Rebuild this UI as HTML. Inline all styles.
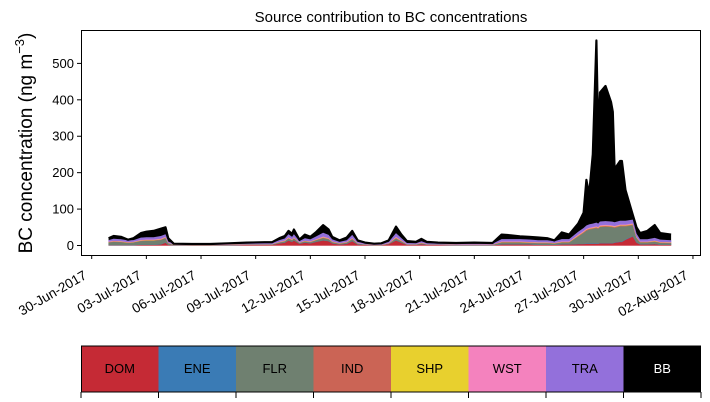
<!DOCTYPE html>
<html><head><meta charset="utf-8"><style>
body{margin:0;background:#fff;}
svg{display:block;font-family:"Liberation Sans","DejaVu Sans",sans-serif;}
</style></head><body>
<svg id="c" width="710" height="402" viewBox="0 0 710 402"></svg>
<script>
const seriesNames=["DOM","ENE","FLR","IND","SHP","WST","TRA","BB"];
const seriesColors=["#c52a35","#3a7bb5","#6f8070","#cb6455","#e8d02e","#f482be","#9370db","#000000"];
// time in days since 30-Jun-2017 00:00
const times=[0.93,1.2,1.6,2.0,2.3,2.7,3.0,3.4,3.8,4.05,4.2,4.5,5.5,6.5,7.5,8.5,9.5,9.9,10.3,10.6,10.8,11.0,11.1,11.4,11.7,12.0,12.3,12.7,13.0,13.2,13.6,14.0,14.3,14.6,15.0,15.5,15.9,16.3,16.7,17.0,17.3,17.8,18.1,18.4,19.0,20.0,21.0,22.0,22.5,23.0,23.5,24.0,24.5,25.0,25.4,25.8,26.2,26.7,27.0,27.15,27.3,27.5,27.7,27.8,27.9,28.2,28.5,28.6,28.7,29.0,29.1,29.3,29.7,29.9,30.1,30.5,30.9,31.2,31.8];
const totals=[20,26,24,16,20,34,38,40,46,50,20,5,4,4,6,8,9,9,20,26,40,32,44,16,30,24,36,56,44,24,14,22,40,14,8,5,6,14,52,30,12,10,18,10,8,7,8,7,30,28,25,24,22,20,14,36,30,60,90,180,140,250,563,300,420,438,394,367,210,232,232,152,84,50,34,40,56,34,30];
const dom=[1,1,1,1,1,2,2,2,3,8,2,1,1,1,1,2,2,2,6,8,14,10,14,5,8,6,10,14,12,6,3,5,12,3,2,1,1,4,14,8,2,2,4,2,2,1,1,1,3,3,3,3,2,2,2,3,3,4,4,5,5,5,5,5,6,6,6,6,8,10,10,16,25,8,3,3,4,2,2];
const ene=[0.5,0.5,0.5,0.5,0.5,0.5,0.5,0.5,0.5,0.5,0.3,0.2,0.2,0.2,0.2,0.2,0.2,0.2,0.4,0.4,0.5,0.5,0.5,0.3,0.4,0.4,0.5,0.6,0.5,0.4,0.3,0.3,0.5,0.3,0.2,0.2,0.2,0.3,0.6,0.4,0.2,0.2,0.3,0.2,0.2,0.2,0.2,0.2,0.5,0.5,0.5,0.5,0.5,0.5,0.4,0.5,0.5,1,1,1,1,1,1,1,1,1,1,1,1,1,1,1,1,0.8,0.5,0.5,0.6,0.5,0.5];
const flr=[7,9,8,6,7,10,11,11,12,12,4,1,0.5,0.5,0.8,1,1,1,2,3,5,4,5,2,3,3,4,6,5,3,2,3,5,2,1,0.5,0.5,1,5,3,1,1,2,1,1,1,1,1,5,5,5,4,4,4,3,5,5,20,30,35,38,40,42,40,44,45,44,43,40,42,42,36,30,12,5,5,6,5,4];
const ind=[0.8,1,1,0.8,0.8,1,1,1,1.2,1.2,0.6,0.3,0.3,0.3,0.3,0.4,0.4,0.4,0.8,1,1.2,1,1.2,0.6,0.8,0.8,1,1.5,1.2,0.8,0.5,0.6,1.2,0.5,0.3,0.3,0.3,0.5,1.5,1,0.4,0.4,0.6,0.4,0.3,0.3,0.3,0.3,1,1,1,1,1,1,0.8,1,1,2,2,2,2,2,2,2,2,2,2,2,2,2,2,2,2,1.5,1,1,1.2,1,1];
const shp=[0.6,0.7,0.7,0.6,0.6,0.8,0.8,0.8,0.9,0.9,0.4,0.2,0.2,0.2,0.2,0.3,0.3,0.3,0.6,0.7,0.8,0.7,0.8,0.4,0.6,0.6,0.7,1,0.8,0.6,0.4,0.5,0.8,0.4,0.2,0.2,0.2,0.4,1,0.7,0.3,0.3,0.5,0.3,0.2,0.2,0.2,0.2,0.8,0.8,0.8,0.8,0.8,0.8,0.6,0.8,0.8,1,1,1,1,1,1,1,1,1,1,1,1,1,1,1,1,1,0.8,0.8,1,0.8,0.8];
const wst=[1,1.2,1.2,1,1,1.3,1.4,1.4,1.5,1.5,0.8,0.4,0.4,0.4,0.5,0.6,0.6,0.6,1,1.2,1.5,1.3,1.5,0.8,1,1,1.2,1.8,1.5,1,0.7,0.8,1.5,0.7,0.4,0.3,0.3,0.7,2,1.3,0.5,0.5,0.8,0.5,0.4,0.4,0.4,0.4,1.2,1.2,1.2,1.2,1.1,1,0.8,1.2,1.2,2,2,2,2,2,2,2,2,2,2,2,2,2,2,2,2,1.5,1,1,1.2,1,1];
const tra=[4,5,5,4,4,6,6,6,7,7,3,1.5,1.2,1.2,1.5,2,2,2,4,5,8,6,8,3,6,5,7,10,8,5,3,4,8,3,2,1.5,1.5,3,10,6,2.5,2,3.5,2,2,1.8,2,1.8,6,6,6,6,5,5,4,6,6,8,8,9,9,9,10,9,10,10,10,10,10,10,10,10,10,8,6,6,7,6,5];
const xTickLabels=["30-Jun-2017","03-Jul-2017","06-Jul-2017","09-Jul-2017","12-Jul-2017","15-Jul-2017","18-Jul-2017","21-Jul-2017","24-Jul-2017","27-Jul-2017","30-Jul-2017","02-Aug-2017"];
const xTickDays=[0,3,6,9,12,15,18,21,24,27,30,33];
const yTicks=[0,100,200,300,400,500];

const NS="http://www.w3.org/2000/svg";
const svg=document.getElementById('c');
function mk(tag,attrs,parent){const e=document.createElementNS(NS,tag);for(const k in attrs)e.setAttribute(k,attrs[k]);(parent||svg).appendChild(e);return e;}
const L=81,R=701,T=30,B=255;
const x=d=>91.7+d*18.22;
const y=v=>245.5-v*0.3642;

const comps=[dom,ene,flr,ind,shp,wst,tra];
const bb=totals.map((t,i)=>{let s=0;comps.forEach(c=>s+=c[i]);return Math.max(0,t-s);});
const all=[...comps,bb];
let cum=times.map(()=>0);
const g=mk('g',{});


all.forEach((s,k)=>{
  const lower=cum.slice();
  const upper=cum.map((c,i)=>c+s[i]);
  let d='M'+times.map((t,i)=>x(t).toFixed(1)+','+y(upper[i]).toFixed(1)).join('L');
  for(let i=times.length-1;i>=0;i--)d+='L'+x(times[i]).toFixed(1)+','+y(lower[i]).toFixed(1);
  const p=mk('path',{d:d+'Z',fill:seriesColors[k],stroke:seriesColors[k],'stroke-width':k==7?0:0.4},g);
  
  
  cum=upper;
});
const tl=mk('path',{d:'M'+times.map((t,i)=>x(t).toFixed(1)+','+y(totals[i]).toFixed(1)).join('L'),fill:'none',stroke:'#000','stroke-width':2.2,'stroke-linejoin':'round'});



const frame=mk('rect',{x:L+0.5,y:T+0.5,width:R-L-1,height:B-T,fill:'none',stroke:'#000','stroke-width':1});



yTicks.forEach(v=>{
  const yy=y(v);
  const ln=mk('line',{x1:L-4,x2:L,y1:yy,y2:yy,stroke:'#000','stroke-width':1});
  
  
  const t=mk('text',{x:L-7,y:yy+4.5,'text-anchor':'end','font-size':13});
  t.textContent=v;
  
  
});
xTickDays.forEach((d,i)=>{
  const xx=x(d);
  const ln=mk('line',{x1:xx,x2:xx,y1:B,y2:B+4,stroke:'#000','stroke-width':1});
  
  
  const ax=xx-4, ay=B+23;
  const t=mk('text',{x:ax,y:ay,'text-anchor':'end','font-size':13.5,transform:`rotate(-30 ${ax} ${ay})`});
  t.textContent=xTickLabels[i];
  
  
});
const title=mk('text',{x:391,y:22,'text-anchor':'middle','font-size':15});
title.textContent='Source contribution to BC concentrations';


const yl=mk('text',{x:0,y:0,'text-anchor':'middle','font-size':19,transform:'translate(32,143) rotate(-90)'});
yl.innerHTML='BC concentration (ng m<tspan dy="-8" font-size="13">−3</tspan><tspan dy="8">)</tspan>';



const lw=(R-L)/8;
const lg=mk('g',{});


seriesNames.forEach((n,k)=>{
  const r=mk('rect',{x:L+k*lw,y:346,width:lw,height:46,fill:seriesColors[k]},lg);
  
  
  const t=mk('text',{x:L+k*lw+lw/2,y:373,'text-anchor':'middle','font-size':13,fill:k==7?'#fff':'#000'},lg);
  t.textContent=n;
  
  
});
const lf=mk('rect',{x:L+0.5,y:346,width:R-L-1,height:46,fill:'none',stroke:'#000','stroke-width':1},lg);


for(let k=0;k<=8;k++){
  const xx=L+k*lw;
  const ln=mk('line',{x1:xx,x2:xx,y1:392,y2:398,stroke:'#000','stroke-width':1},lg);
  
  
}
</script>
</body></html>
